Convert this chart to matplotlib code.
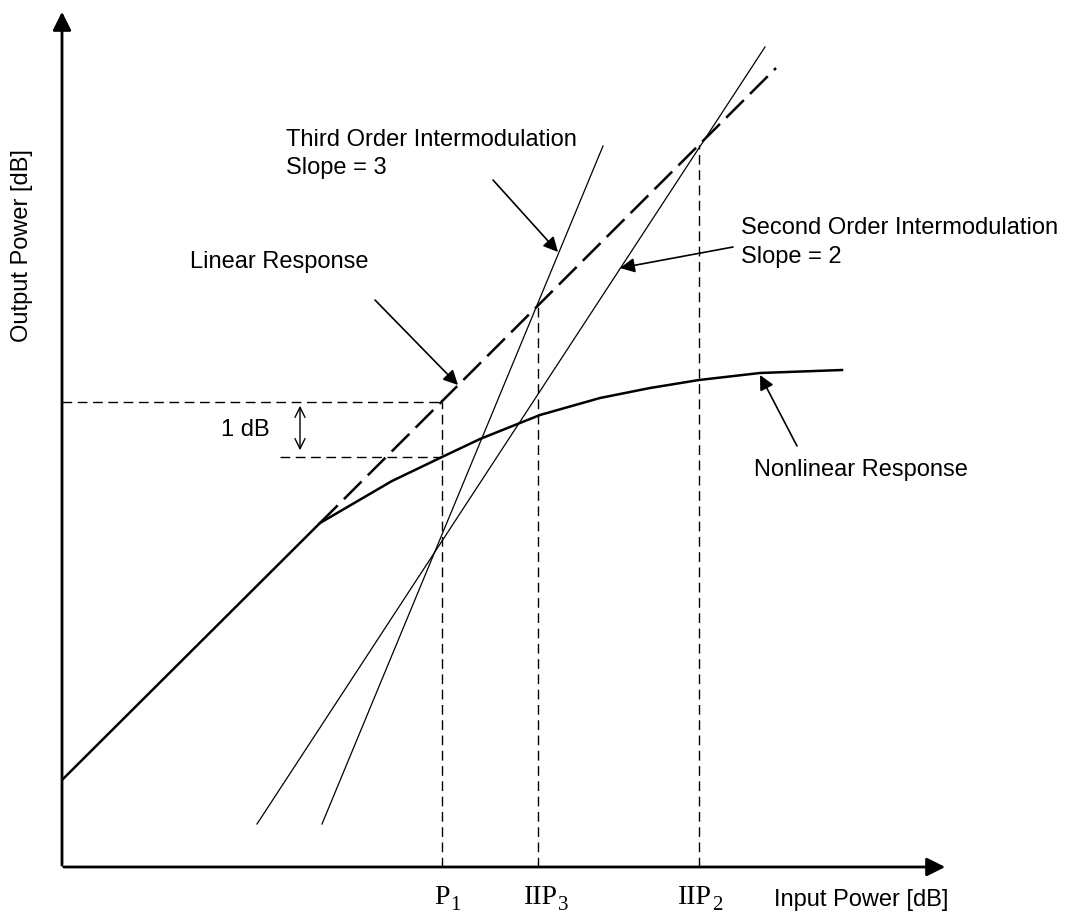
import matplotlib.pyplot as plt

plt.rcParams['font.family'] = ['Liberation Sans', 'DejaVu Sans']

# Linearna odpowiedz (czesc ciagla i przedluzenie kreskowane)
lin_solid_x = [0, 258]
lin_solid_y = [87, 344]
lin_dash_x = [258, 714]
lin_dash_y = [344, 799]

# Odpowiedz nieliniowa
nonlin_x = [258, 330, 380, 418, 478, 538, 588, 637, 698, 780]
nonlin_y = [344, 386, 410, 428, 452, 469, 479, 487, 494, 497]

# Intermodulacja 3. i 2. rzedu
im3_x = [260, 541]
im3_y = [43, 721]
im2_x = [195, 703]
im2_y = [43, 820]

# Punkty charakterystyczne
p1_x, p1_lin, p1_out = 380, 465, 410
iip3_x, iip3_y = 476, 564
iip2_x, iip2_y = 637, 722
x_max, y_max = 886, 858

# Etykiety na osi X: (tekst, indeks, koniec tekstu glownego)
xlabels = [('P', '1', 388), ('IIP', '3', 496), ('IIP', '2', 650)]

fig = plt.figure(figsize=(10.72, 9.19), dpi=100)
ax = fig.add_axes([0, 0, 1, 1])
ax.set_xlim(-62, 1010)
ax.set_ylim(-52, 867)
ax.axis('off')

# Osie ze strzalkami
ax.annotate('', xy=(x_max, 0), xytext=(-1, 0),
            arrowprops=dict(arrowstyle='-|>', lw=2, color='k', mutation_scale=28))
ax.annotate('', xy=(0, y_max), xytext=(0, -1),
            arrowprops=dict(arrowstyle='-|>', lw=2, color='k', mutation_scale=28))

ax.plot(lin_solid_x, lin_solid_y, 'k', lw=1.8, solid_capstyle='butt')
ax.plot(lin_dash_x, lin_dash_y, 'k', lw=1.8, dashes=(10, 3.5))
ax.plot(nonlin_x, nonlin_y, 'k', lw=1.8)
ax.plot(im3_x, im3_y, 'k', lw=0.9)
ax.plot(im2_x, im2_y, 'k', lw=0.9)

thin = dict(color='k', lw=1, dashes=(7, 4))
ax.plot([p1_x, p1_x], [0, p1_lin], **thin)
ax.plot([iip3_x, iip3_x], [0, iip3_y], **thin)
ax.plot([iip2_x, iip2_x], [0, iip2_y], **thin)
ax.plot([0, p1_x], [p1_lin, p1_lin], **thin)
ax.plot([218, p1_x], [p1_out, p1_out], **thin)

# 1 dB
ax.annotate('', xy=(238, p1_lin - 1), xytext=(238, p1_out + 4),
            arrowprops=dict(arrowstyle='<->', lw=1, color='k', mutation_scale=18))
ax.text(208, 437, '1 dB', fontsize=17, ha='right', va='center')

# Opisy
fs = 17
ax.text(886, -39, 'Input Power [dB]', fontsize=fs, ha='right', va='baseline')
ax.text(-40, 621, 'Output Power [dB]', fontsize=fs, rotation=90, ha='center', va='center')

ax.text(224, 727, 'Third Order Intermodulation', fontsize=fs, va='center')
ax.text(224, 699, 'Slope = 3', fontsize=fs, va='center')
ax.text(679, 639, 'Second Order Intermodulation', fontsize=fs, va='center')
ax.text(679, 610, 'Slope = 2', fontsize=fs, va='center')
ax.text(128, 605, 'Linear Response', fontsize=fs, va='center')
ax.text(692, 397, 'Nonlinear Response', fontsize=fs, va='center')

arr = dict(arrowstyle='-|>', lw=1.2, color='k', mutation_scale=22, shrinkA=0, shrinkB=0)
ax.annotate('', xy=(496, 615), xytext=(431, 687), arrowprops=arr)
ax.annotate('', xy=(558, 599), xytext=(671, 620), arrowprops=arr)
ax.annotate('', xy=(396, 482), xytext=(313, 567), arrowprops=arr)
ax.annotate('', xy=(698, 492), xytext=(735, 421), arrowprops=arr)

for main, sub, xe in xlabels:
    ax.text(xe, -37, main, fontsize=20, family='Liberation Serif', ha='right', va='baseline')
    ax.text(xe, -43, sub, fontsize=15, family='Liberation Serif', ha='left', va='baseline')

plt.savefig('out.png', dpi=100)
